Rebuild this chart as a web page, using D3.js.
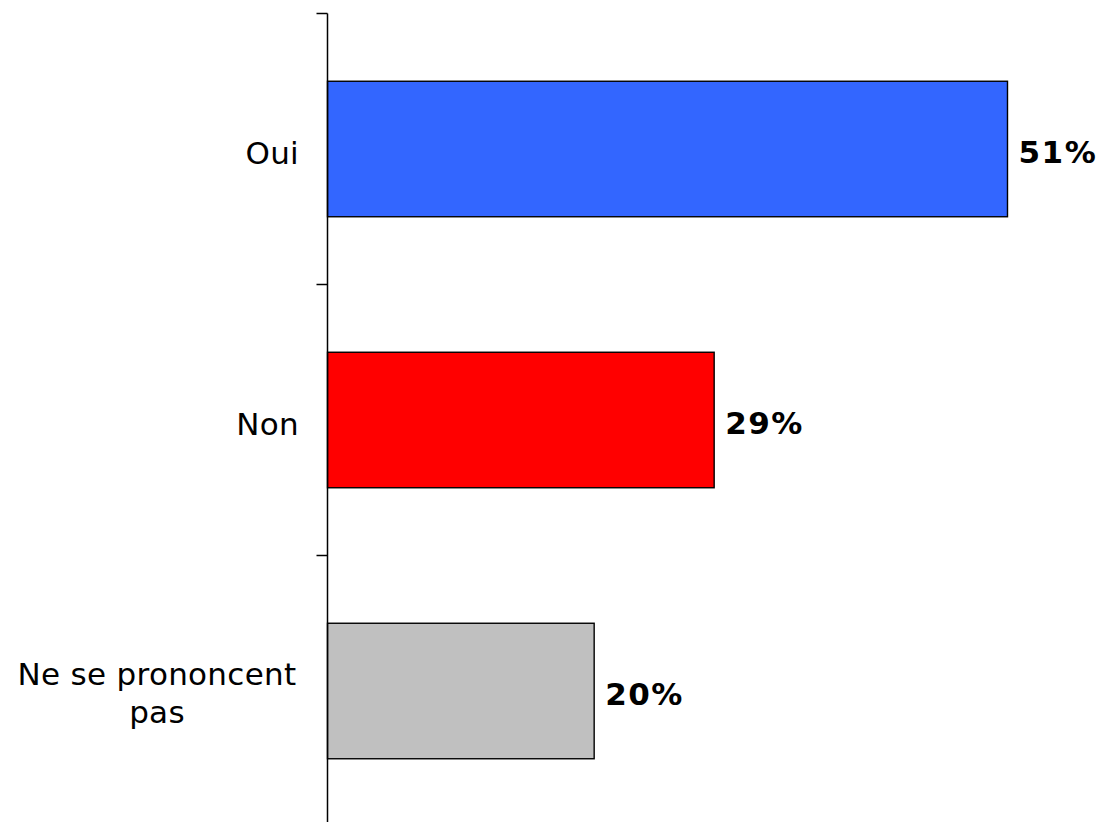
<!DOCTYPE html>
<html>
<head>
<meta charset="utf-8">
<script src="https://cdn.jsdelivr.net/npm/d3@7"></script>
<style>
  html, body { margin: 0; padding: 0; background: #fff; }
  svg { display: block; }
</style>
</head>
<body>
<svg id="chart" width="1103" height="822"></svg>
<script>
// Survey answers and their shares (percent)
const categories = ["Oui", "Non", "Ne se prononcent pas"];
const labelLines = [["Oui"], ["Non"], ["Ne se prononcent", "pas"]];
const values = [51, 29, 20];
const colors = ["#3366FF", "#FF0000", "#C0C0C0"];

const svg = d3.select("#chart");
const font = "'DejaVu Sans', Verdana, sans-serif";

const axisX = 327.5;
const y = d3.scaleBand()
  .domain(categories)
  .range([13.5, 826.5])
  .paddingInner(0.5)
  .paddingOuter(0.25);

const x = d3.scaleLinear()
  .domain([0, 51])
  .range([axisX, 1007.5]);

// bars
svg.append("g")
  .selectAll("rect")
  .data(categories)
  .join("rect")
  .attr("x", axisX)
  .attr("y", d => y(d))
  .attr("width", (d, i) => x(values[i]) - axisX)
  .attr("height", y.bandwidth())
  .attr("fill", (d, i) => colors[i])
  .attr("stroke", "#000")
  .attr("stroke-width", 1.4);

// category axis: line with ticks at band boundaries
const axisG = svg.append("g");
axisG.append("line")
  .attr("x1", axisX).attr("x2", axisX)
  .attr("y1", 13.5).attr("y2", 826.5)
  .attr("stroke", "#000").attr("stroke-width", 1.5);

const step = y.step();
const boundaries = d3.range(categories.length + 1).map(i => 13.5 + i * step);
axisG.selectAll("line.tick")
  .data(boundaries)
  .join("line")
  .attr("class", "tick")
  .attr("x1", axisX - 11).attr("x2", axisX)
  .attr("y1", d => d).attr("y2", d => d)
  .attr("stroke", "#000").attr("stroke-width", 1.5);

// category labels
const lineH = 38;
svg.append("g")
  .selectAll("text")
  .data(categories)
  .join("text")
  .attr("font-family", font)
  .attr("font-size", 31)
  .attr("letter-spacing", 0.3)
  .attr("fill", "#000")
  .each(function (d, i) {
    const lines = labelLines[i];
    const cy = y(d) + y.bandwidth() / 2;
    const t = d3.select(this);
    const multi = lines.length > 1;
    t.attr("text-anchor", multi ? "middle" : "end");
    lines.forEach((ln, k) => {
      t.append("tspan")
        .attr("x", multi ? 157 : 299)
        .attr("y", multi ? cy - 6.5 + k * lineH : cy + 14.5)
        .text(ln);
    });
  });

// value labels
svg.append("g")
  .selectAll("text")
  .data(categories)
  .join("text")
  .attr("x", (d, i) => x(values[i]) + 11)
  .attr("y", d => y(d) + y.bandwidth() / 2 + 13.5)
  .attr("font-family", font)
  .attr("font-size", 31)
  .attr("font-weight", "bold")
  .attr("letter-spacing", 1.5)
  .attr("fill", "#000")
  .text((d, i) => values[i] + "%");
</script>
</body>
</html>
